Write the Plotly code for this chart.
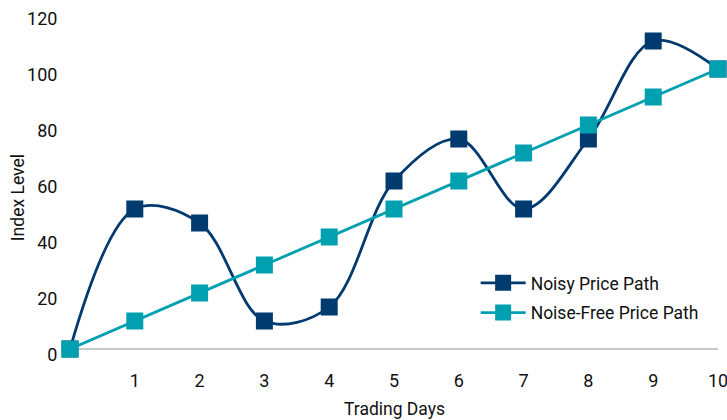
import plotly.graph_objects as go

days = [0, 1, 2, 3, 4, 5, 6, 7, 8, 9, 10]
noisy = [0, 50, 45, 10, 15, 60, 75, 50, 75, 110, 100]
noise_free = [0, 10, 20, 30, 40, 50, 60, 70, 80, 90, 100]
x_ticks = [1, 2, 3, 4, 5, 6, 7, 8, 9, 10]
y_ticks = [0, 20, 40, 60, 80, 100, 120]

NAVY = "#003A6E"
TEAL = "#00A0B0"
FONT = "Roboto"
TEXT = "#111111"

fig = go.Figure()
fig.add_trace(go.Scatter(
    x=days, y=noisy, name="Noisy Price Path", mode="lines+markers",
    line=dict(color=NAVY, width=2.8, shape="spline", smoothing=1.0),
    marker=dict(symbol="square", size=17, color=NAVY),
    cliponaxis=False, legendgroup="noisy",
))
fig.add_trace(go.Scatter(
    x=days, y=noise_free, name="Noise-Free Price Path", mode="lines+markers",
    line=dict(color=TEAL, width=2.8),
    marker=dict(symbol="square", size=17, color=TEAL),
    cliponaxis=False, legendgroup="free",
))

fig.update_layout(
    width=727, height=420,
    margin=dict(l=70, r=9, t=13, b=71, autoexpand=False),
    paper_bgcolor="white", plot_bgcolor="white",
    font=dict(family=FONT, color=TEXT),
    showlegend=True,
    legend=dict(
        x=0.626, y=0.152, xanchor="left", yanchor="middle",
        font=dict(size=17.5, family=FONT, color=TEXT),
        itemwidth=45, bgcolor="rgba(0,0,0,0)", tracegroupgap=4,
    ),
    annotations=[
        dict(text="Trading Days", xref="paper", yref="paper", x=0.5, y=0,
             yshift=-60, showarrow=False, font=dict(size=17.5, family=FONT, color=TEXT),
             xanchor="center", yanchor="middle"),
        dict(text="Index Level", xref="paper", yref="paper", x=0, y=0.449,
             xshift=-52, textangle=-90, showarrow=False,
             font=dict(size=17.5, family=FONT, color=TEXT),
             xanchor="center", yanchor="middle"),
    ],
)

fig.update_xaxes(
    range=[0, 10], tickvals=x_ticks, ticktext=[str(v) for v in x_ticks],
    showgrid=False, zeroline=False, showline=False, automargin=False,
    ticks="outside", ticklen=15, tickcolor="rgba(0,0,0,0)",
    ticklabeloverflow="allow",
    tickfont=dict(size=18, family=FONT, color=TEXT),
)
fig.update_yaxes(
    range=[0, 120], tickvals=y_ticks, ticktext=[str(v) for v in y_ticks],
    showgrid=False, zeroline=True, zerolinecolor="#C8C8C8", zerolinewidth=1.5,
    showline=False, automargin=False, ticks="outside", ticklen=8,
    tickcolor="rgba(0,0,0,0)",
    ticklabelshift=6, ticklabeloverflow="allow",
    tickfont=dict(size=18, family=FONT, color=TEXT),
)

fig.write_html("out.html")
